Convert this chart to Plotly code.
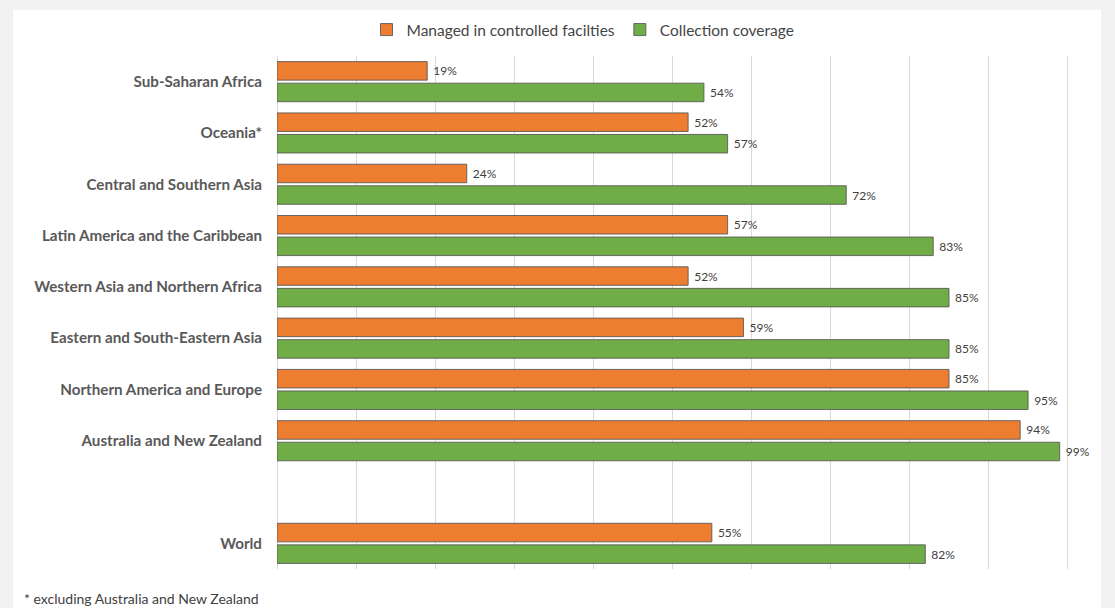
import plotly.graph_objects as go

# Regions, top to bottom; the blank entry leaves a gap before the World row
regions = [
    "Sub-Saharan Africa",
    "Oceania*",
    "Central and Southern Asia",
    "Latin America and the Caribbean",
    "Western Asia and Northern Africa",
    "Eastern and South-Eastern Asia",
    "Northern America and Europe",
    "Australia and New Zealand",
    " ",
    "World",
]
bar_regions = [r for r in regions if r.strip()]

managed = [19, 52, 24, 57, 52, 59, 85, 94, 55]
collection = [54, 57, 72, 83, 85, 85, 95, 99, 82]

W, H = 1115, 608
L, R, T, B = 277, 47, 56, 39
pw, ph = W - L - R, H - T - B
X_MAX = 100


def px_x(p):
    return (p - L) / pw


def px_y(p):
    return (H - B - p) / ph


label_font = dict(family="Lato, Roboto, sans-serif", size=12, color="#404040")
outline = dict(color="rgba(85,85,85,0.85)", width=1)
grid_color = "#d9d9d9"

fig = go.Figure()
fig.add_trace(go.Bar(
    name="Managed in controlled facilties",
    y=bar_regions, x=managed, orientation="h",
    marker=dict(color="#ED7D31", line=outline),
    texttemplate=" %{x}%", textposition="outside",
    textfont=label_font, cliponaxis=False,
))
fig.add_trace(go.Bar(
    name="Collection coverage",
    y=bar_regions, x=collection, orientation="h",
    marker=dict(color="#70AD47", line=outline),
    texttemplate=" %{x}%", textposition="outside",
    textfont=label_font, cliponaxis=False,
))

fig.update_layout(
    width=W, height=H,
    margin=dict(l=L, r=R, t=T, b=B),
    paper_bgcolor="#f2f2f2",
    plot_bgcolor="white",
    barmode="group",
    bargap=0.16,
    bargroupgap=0.14,
    font=dict(family="Lato, Roboto, sans-serif", color="#595959"),
    showlegend=True,
    legend=dict(
        orientation="h", x=px_x(583), xanchor="center",
        y=px_y(30), yanchor="middle",
        font=dict(size=15.5, color="#454545"),
        bgcolor="rgba(0,0,0,0)", itemwidth=30,
    ),
    xaxis=dict(
        range=[0, X_MAX + 0.05], tickvals=list(range(0, X_MAX + 1, 10)),
        showgrid=True, gridcolor=grid_color, gridwidth=1,
        zeroline=True, zerolinecolor=grid_color, zerolinewidth=1,
        showticklabels=False, showline=False, fixedrange=True,
    ),
    yaxis=dict(
        type="category", categoryorder="array", categoryarray=regions,
        autorange="reversed", showgrid=False, showline=False,
        ticks="", ticklabelstandoff=14,
        tickfont=dict(size=15.2, color="#595959", weight="bold"),
    ),
    shapes=[
        # white card behind the chart
        dict(
            type="rect", xref="paper", yref="paper", layer="below",
            x0=px_x(13), x1=px_x(1101), y0=px_y(612), y1=px_y(10),
            fillcolor="white", line=dict(width=0),
        ),
        # closing gridline at the right edge of the scale
        dict(
            type="line", xref="x", yref="paper", layer="below",
            x0=X_MAX, x1=X_MAX, y0=0, y1=1,
            line=dict(color=grid_color, width=1),
        ),
    ],
    annotations=[dict(
        text="* excluding Australia and New Zealand",
        xref="paper", yref="paper", x=px_x(22), y=px_y(598),
        xanchor="left", yanchor="middle", showarrow=False,
        font=dict(size=14, color="#404040"),
    )],
)

fig.write_html("out.html")
